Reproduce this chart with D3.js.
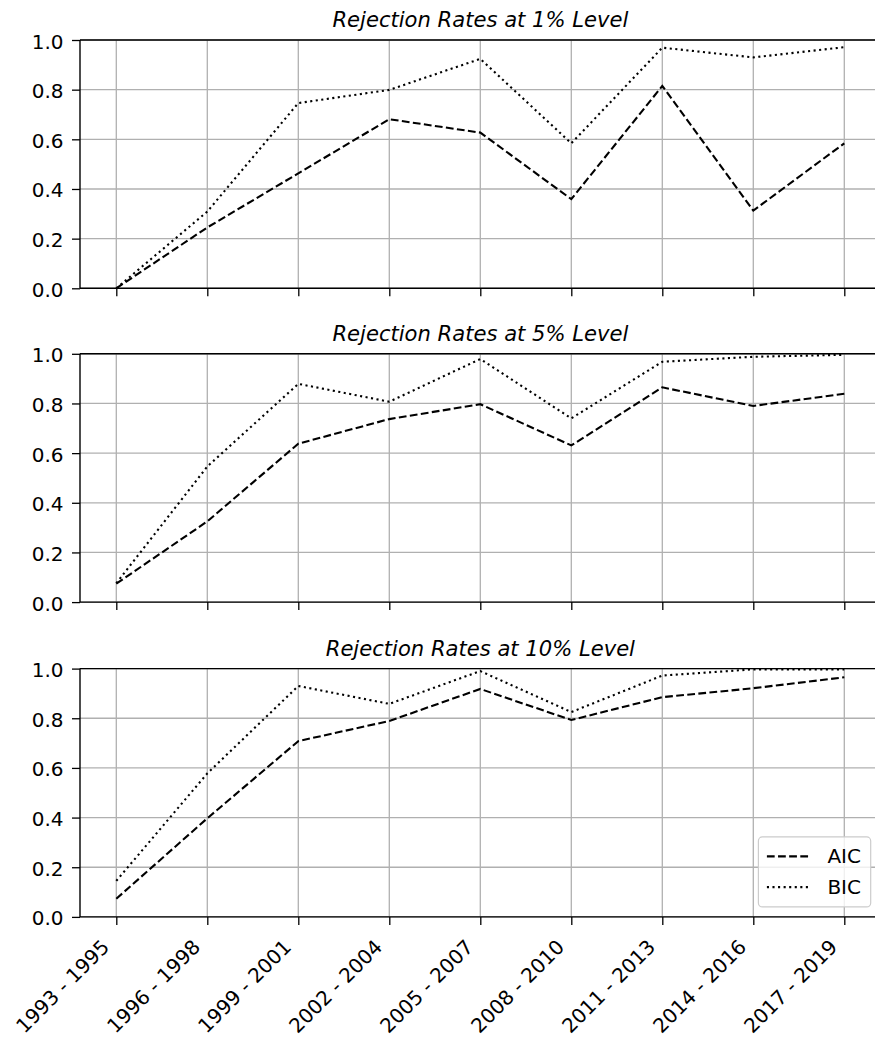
<!DOCTYPE html>
<html>
<head>
<meta charset="utf-8">
<script src="https://cdn.jsdelivr.net/npm/d3@7"></script>
<style>
  html, body { margin: 0; padding: 0; background: #fff; }
  svg { display: block; }
  text { font-family: "DejaVu Sans", sans-serif; fill: #000; }
</style>
</head>
<body>
<svg id="chart" width="875" height="1038"></svg>
<script>
// Three-year windows on the shared x axis
const categories = ["1993 - 1995", "1996 - 1998", "1999 - 2001", "2002 - 2004", "2005 - 2007",
                    "2008 - 2010", "2011 - 2013", "2014 - 2016", "2017 - 2019"];

// Significance levels, one panel each
const levels = ["1%", "5%", "10%"];

// Rejection rates with lag length chosen by AIC
const aic1  = [0.000, 0.245, 0.463, 0.681, 0.627, 0.359, 0.815, 0.313, 0.584];
const aic5  = [0.074, 0.325, 0.638, 0.737, 0.797, 0.631, 0.865, 0.790, 0.839];
const aic10 = [0.073, 0.397, 0.708, 0.789, 0.918, 0.793, 0.885, 0.921, 0.965];

// Rejection rates with lag length chosen by BIC
const bic1  = [0.000, 0.309, 0.746, 0.799, 0.924, 0.584, 0.969, 0.930, 0.971];
const bic5  = [0.076, 0.546, 0.879, 0.807, 0.979, 0.740, 0.968, 0.988, 0.996];
const bic10 = [0.145, 0.578, 0.930, 0.858, 0.990, 0.825, 0.972, 0.997, 0.997];

const yTicks = [0, 0.2, 0.4, 0.6, 0.8, 1.0];

const aicSeries = [aic1, aic5, aic10];
const bicSeries = [bic1, bic5, bic10];

const svg = d3.select("#chart");
const axLeft = 80, axRight = 880.7;
const panelTops = [40, 353.8, 668.6];
const panelH = 248.3;
const fontSize = 20;
const titleSize = 21.1;
const lw = 2.1;

const x = d3.scalePoint().domain(categories).range([116.3, 844.3]);

const lineStyles = {
  AIC: `${3.7 * lw},${1.6 * lw}`,
  BIC: `${1 * lw},${1.65 * lw}`
};

panelTops.forEach((top, i) => {
  const g = svg.append("g").attr("transform", `translate(0,${top})`);
  const y = d3.scaleLinear().domain([0, 1]).range([panelH, 0]);

  // grid
  g.append("g").selectAll("line.vg").data(categories).join("line")
    .attr("x1", d => x(d)).attr("x2", d => x(d))
    .attr("y1", 0).attr("y2", panelH)
    .attr("stroke", "#b0b0b0").attr("stroke-width", 1.3);
  g.append("g").selectAll("line.hg").data(yTicks).join("line")
    .attr("x1", axLeft).attr("x2", axRight)
    .attr("y1", d => y(d)).attr("y2", d => y(d))
    .attr("stroke", "#b0b0b0").attr("stroke-width", 1.3);

  // series
  const line = d3.line().x((d, j) => x(categories[j])).y(d => y(d));
  g.append("path").datum(aicSeries[i])
    .attr("d", line).attr("fill", "none").attr("stroke", "#000")
    .attr("stroke-width", lw).attr("stroke-dasharray", lineStyles.AIC);
  g.append("path").datum(bicSeries[i])
    .attr("d", line).attr("fill", "none").attr("stroke", "#000")
    .attr("stroke-width", lw).attr("stroke-dasharray", lineStyles.BIC);

  // y axis
  const yAxis = d3.axisLeft(y).tickValues(yTicks).tickFormat(d3.format(".1f"))
    .tickSize(8).tickPadding(8.5).tickSizeOuter(0);
  const ya = g.append("g").attr("transform", `translate(${axLeft},0)`).call(yAxis);
  ya.select(".domain").remove();
  ya.selectAll(".tick line").attr("stroke", "#000").attr("stroke-width", 1.3);
  ya.selectAll(".tick text").attr("font-size", fontSize).attr("dy", "0.4em")
    .attr("font-family", "DejaVu Sans").attr("fill", "#000");

  // x axis ticks
  const xAxis = d3.axisBottom(x).tickSize(8).tickFormat("").tickSizeOuter(0);
  const xa = g.append("g").attr("transform", `translate(0,${panelH})`).call(xAxis);
  xa.select(".domain").remove();
  xa.selectAll(".tick line").attr("stroke", "#000").attr("stroke-width", 1.3);

  // spines
  const sp = g.append("g").attr("stroke", "#000").attr("stroke-width", 1.4);
  sp.append("line").attr("x1", axLeft).attr("x2", axRight).attr("y1", 0).attr("y2", 0);
  sp.append("line").attr("x1", axLeft).attr("x2", axRight).attr("y1", panelH).attr("y2", panelH);
  sp.append("line").attr("x1", axLeft).attr("x2", axLeft).attr("y1", 0).attr("y2", panelH);
  sp.append("line").attr("x1", axRight).attr("x2", axRight).attr("y1", 0).attr("y2", panelH);

  // title
  g.append("text")
    .attr("x", (axLeft + axRight) / 2).attr("y", -13)
    .attr("text-anchor", "middle").attr("font-size", titleSize)
    .attr("font-style", "italic")
    .text(`Rejection Rates at ${levels[i]} Level`);

  // rotated category labels on the bottom panel
  if (i === panelTops.length - 1) {
    g.append("g").selectAll("text").data(categories).join("text")
      .attr("transform", d => `translate(${x(d) - 5.7},${panelH + 31.3}) rotate(-45)`)
      .attr("text-anchor", "end").attr("font-size", fontSize)
      .text(d => d);

    // legend
    const lg = g.append("g");
    const boxW = 112.3, boxH = 70;
    const bx = axRight - 10 - boxW, by = panelH - 10 - boxH;
    lg.append("rect").attr("x", bx).attr("y", by).attr("width", boxW).attr("height", boxH)
      .attr("rx", 4).attr("ry", 4)
      .attr("fill", "#fff").attr("fill-opacity", 0.8)
      .attr("stroke", "#cccccc").attr("stroke-width", 1.2);
    const entries = [["AIC", lineStyles.AIC], ["BIC", lineStyles.BIC]];
    entries.forEach(([name, dash], k) => {
      const ly = by + 19.5 + k * 30.7;
      lg.append("line").attr("x1", bx + 8.5).attr("x2", bx + 50.5)
        .attr("y1", ly).attr("y2", ly)
        .attr("stroke", "#000").attr("stroke-width", lw).attr("stroke-dasharray", dash);
      lg.append("text").attr("x", bx + 69).attr("y", ly + 6.8)
        .attr("font-size", fontSize).text(name);
    });
  }
});
</script>
</body>
</html>
